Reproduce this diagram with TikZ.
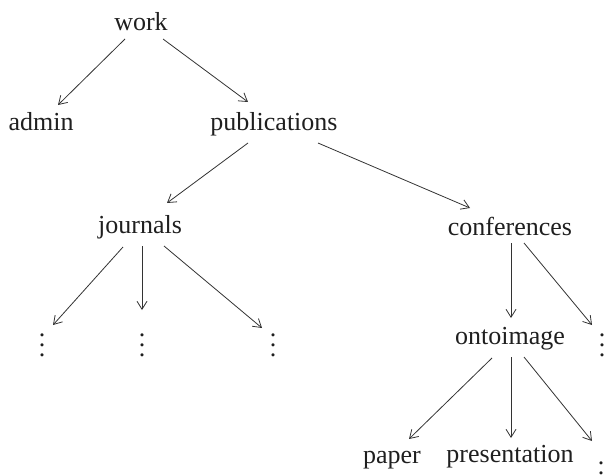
\documentclass[tikz,border=0pt]{standalone}
\usepackage{fontspec}
\setmainfont{Liberation Serif}
\usetikzlibrary{arrows.meta,calc}
\newcommand\myvdots{\vbox{\baselineskip=10pt\lineskiplimit=-20pt\hbox{.}\hbox{.}\hbox{.}}}
\begin{document}
\begin{tikzpicture}[x=1pt,y=-1pt,
  lbl/.style={anchor=base,inner sep=0pt,font=\fontsize{26}{30}\selectfont,text=black!88},
  dts/.style={anchor=center,inner sep=0pt,font=\fontsize{26}{30}\selectfont,text=black!88},
  arr/.style={draw=black!80,line width=0.8pt,-{Straight Barb[length=8pt,width=10pt,line width=0.8pt]}}]
\useasboundingbox (0,0) rectangle (605,474);
\clip (0,0) rectangle (605,474);
\node[lbl] (work) at (141,30) {work};
\node[lbl] (admin) at (41,130) {admin};
\node[lbl] (pub) at (274,130) {publications};
\node[lbl] (jour) at (140,233) {journals};
\node[lbl] (conf) at (510,235) {conferences};
\node[lbl] (onto) at (510,344) {ontoimage};
\node[lbl] (paper) at (392,463) {paper};
\node[lbl] (pres) at (510,462) {presentation};
\node[dts] (dA) at (42,345) {\myvdots};
\node[dts] (dB) at (142,345) {\myvdots};
\node[dts] (dC) at (273,345) {\myvdots};
\node[dts] (dD) at (602,345) {\myvdots};
\node[dts] (dE) at (601,473) {\myvdots};
\draw[arr] ($(work.base)+(-16,9)$) -- ($(admin.base)+(17,-25)$);
\draw[arr] ($(work.base)+(22,9)$) -- ($(pub.base)+(-26,-28)$);
\draw[arr] ($(pub.base)+(-26,13)$) -- ($(jour.base)+(27,-30)$);
\draw[arr] ($(pub.base)+(44,13)$) -- ($(conf.base)+(-40,-27)$);
\draw[arr] ($(jour.base)+(-17,14)$) -- ($(dA.center)+(11,-20)$);
\draw[arr] ($(jour.base)+(2,13)$) -- ($(dB.center)+(0,-35)$);
\draw[arr] ($(jour.base)+(24,13)$) -- ($(dC.center)+(-11,-17)$);
\draw[arr] ($(conf.base)+(1,8)$) -- ($(onto.base)+(1,-26)$);
\draw[arr] ($(conf.base)+(14,8)$) -- ($(dD.center)+(-10,-20)$);
\draw[arr] ($(onto.base)+(-18,14)$) -- ($(paper.base)+(17,-24)$);
\draw[arr] ($(onto.base)+(1,13)$) -- ($(pres.base)+(1,-24)$);
\draw[arr] ($(onto.base)+(14,13)$) -- ($(dE.center)+(-9,-32)$);
\end{tikzpicture}
\end{document}
